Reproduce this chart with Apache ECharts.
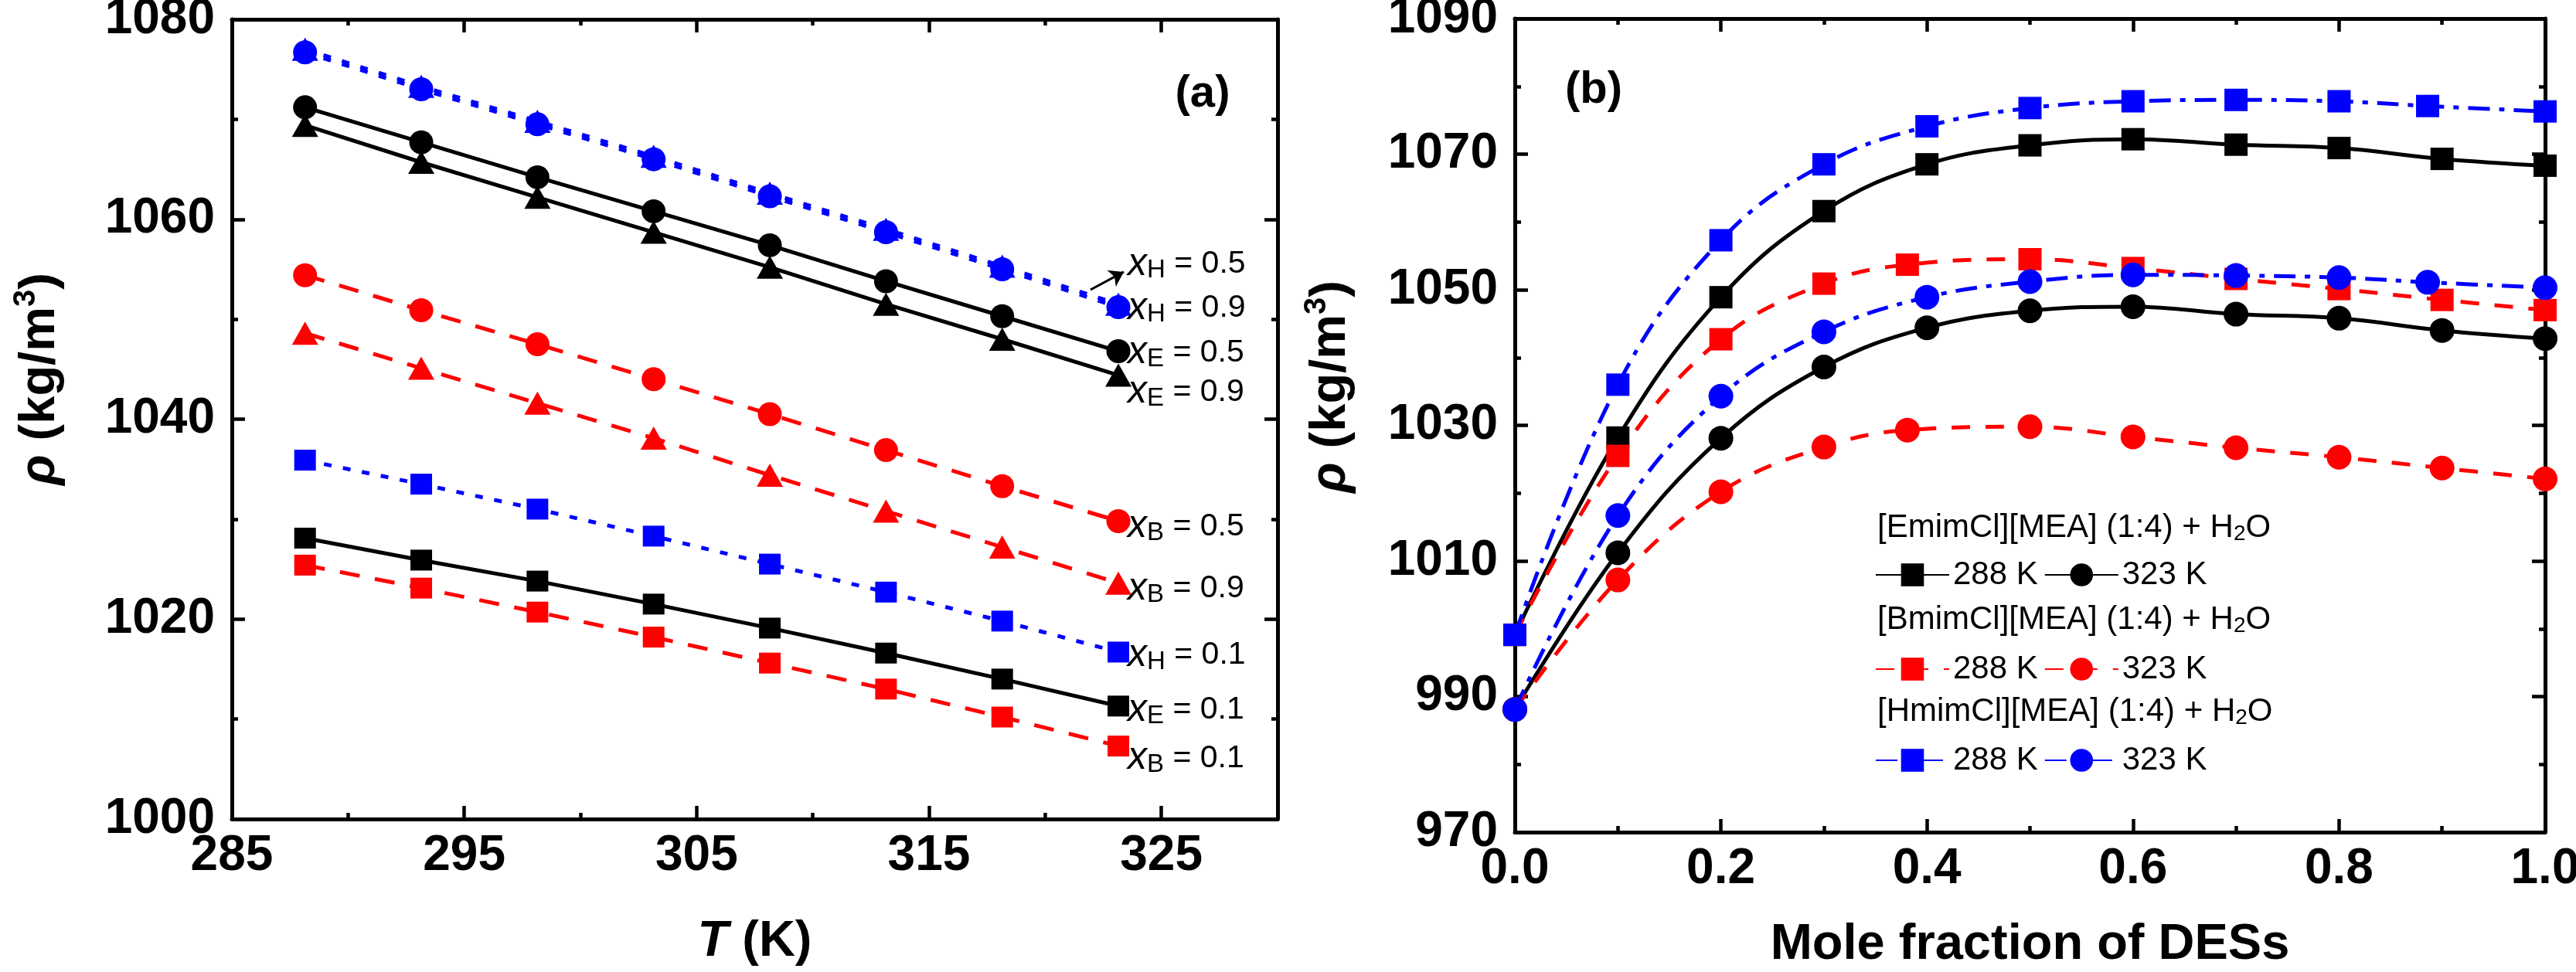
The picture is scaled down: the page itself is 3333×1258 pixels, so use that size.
<!DOCTYPE html>
<html>
<head>
<meta charset="utf-8">
<script src="https://cdn.jsdelivr.net/npm/echarts@6/dist/echarts.min.js"></script>
<style>
  html, body { margin: 0; padding: 0; background: #fff; }
  #main { width: 3333px; height: 1258px; }
</style>
</head>
<body>
<div id="main"></div>
<script>
// (a) density vs temperature
const tempK = [288.15, 293.15, 298.15, 303.15, 308.15, 313.15, 318.15, 323.15];
const rhoH05 = [1076.7, 1073.0, 1069.5, 1066.0, 1062.3, 1058.7, 1055.0, 1051.2];
const rhoH09 = [1077.0, 1073.3, 1069.8, 1066.3, 1062.6, 1059.0, 1055.3, 1051.5];
const rhoE05 = [1071.2, 1067.7, 1064.2, 1060.8, 1057.4, 1053.8, 1050.3, 1046.8];
const rhoE09 = [1069.4, 1065.7, 1062.2, 1058.7, 1055.2, 1051.5, 1048.0, 1044.4];
const rhoB05 = [1054.4, 1050.9, 1047.5, 1044.0, 1040.5, 1036.9, 1033.3, 1029.8];
const rhoB09 = [1048.6, 1045.1, 1041.6, 1038.1, 1034.4, 1030.8, 1027.2, 1023.6];
const rhoH01 = [1035.9, 1033.5, 1031.0, 1028.3, 1025.5, 1022.7, 1019.8, 1016.7];
const rhoE01 = [1028.1, 1025.9, 1023.8, 1021.5, 1019.1, 1016.6, 1014.0, 1011.3];
const rhoB01 = [1025.4, 1023.1, 1020.7, 1018.2, 1015.6, 1013.0, 1010.2, 1007.3];
// arrow from the xH = 0.5 label to its line (data coords)
const arrowFrom = [321.95, 1052.95];
const arrowTo = [323.38, 1054.73];

// (b) density vs mole fraction of DES
const xEmim = [0, 0.1, 0.2, 0.3, 0.4, 0.5, 0.6, 0.7, 0.8, 0.9, 1.0];
const xBmim = [0, 0.1, 0.2, 0.3, 0.381, 0.5, 0.6, 0.7, 0.8, 0.9, 1.0];
const xHmim = [0, 0.1, 0.2, 0.3, 0.4, 0.5, 0.6, 0.7, 0.8, 0.886, 1.0];
const emim288 = [999.1, 1028.2, 1048.9, 1061.6, 1068.5, 1071.3, 1072.2, 1071.4, 1070.9, 1069.3, 1068.3];
const emim323 = [988.1, 1011.2, 1028.1, 1038.6, 1044.4, 1046.9, 1047.5, 1046.4, 1045.8, 1044.0, 1042.8];
const bmim288 = [999.1, 1025.5, 1042.7, 1050.9, 1053.7, 1054.5, 1053.2, 1051.6, 1050.1, 1048.5, 1047.0];
const bmim323 = [988.1, 1007.2, 1020.2, 1026.8, 1029.3, 1029.8, 1028.3, 1026.7, 1025.3, 1023.7, 1022.1];
const hmim288 = [999.1, 1036.0, 1057.3, 1068.5, 1074.1, 1076.8, 1077.8, 1078.0, 1077.8, 1077.1, 1076.3];
const hmim323 = [988.1, 1016.7, 1034.3, 1043.8, 1048.9, 1051.2, 1052.2, 1052.1, 1051.8, 1051.1, 1050.3];

// tick labels / ticks
const aXLabels = [285, 295, 305, 315, 325];
const aXMajor = [295, 305, 315, 325];
const aXMinor = [290, 300, 310, 320];
const aYLabels = [1000, 1020, 1040, 1060, 1080];
const aYMajor = [1020, 1040, 1060];
const aYMinor = [1010, 1030, 1050, 1070];
const bXLabels = [0, 0.2, 0.4, 0.6, 0.8, 1.0];
const bXMajor = [0.2, 0.4, 0.6, 0.8];
const bXMinor = [0.1, 0.3, 0.5, 0.7, 0.9];
const bYLabels = [970, 990, 1010, 1030, 1050, 1070, 1090];
const bYMajor = [990, 1010, 1030, 1050, 1070];
const bYMinor = [980, 1000, 1020, 1040, 1060, 1080];

const FONT = "'Liberation Sans', Arial, Helvetica, sans-serif";
const RED = '#ff0000', BLUE = '#0000ff', BLACK = '#000000';
const DASH = [26, 20], DOT = [10, 15], DASHDOT = [28, 12, 7, 12];
const LW = 5;

// 4 axes per side pair: main + mirror with long ticks, main + mirror with short ticks
function axisSet(dim, grid, min, max, labelVals, majorVals, minorVals, fmt, extra) {
  const sides = dim === 'x' ? ['bottom', 'top'] : ['left', 'right'];
  const tick = (vals, len) => ({
    show: true, inside: true, length: len, customValues: vals,
    lineStyle: { color: BLACK, width: 4.5 }
  });
  const common = { type: 'value', gridIndex: grid, min: min, max: max, splitLine: { show: false }, nameMoveOverlap: false };
  const lineOn = { show: true, onZero: false, lineStyle: { color: BLACK, width: 5 } };
  const lineOff = { show: false, onZero: false };
  return [
    Object.assign({}, common, {
      position: sides[0], axisLine: lineOn, axisTick: tick(majorVals, 17),
      axisLabel: {
        show: true, customValues: labelVals, formatter: fmt,
        fontSize: 64, fontWeight: 'bold', fontFamily: FONT, color: BLACK,
        margin: dim === 'x' ? 16 : 22
      }
    }, extra),
    Object.assign({}, common, { position: sides[1], axisLine: lineOn, axisTick: tick(majorVals, 17), axisLabel: { show: false } }),
    Object.assign({}, common, { position: sides[0], axisLine: lineOff, axisTick: tick(minorVals, 8), axisLabel: { show: false } }),
    Object.assign({}, common, { position: sides[1], axisLine: lineOff, axisTick: tick(minorVals, 8), axisLabel: { show: false } })
  ];
}

const titleRich = {
  i: { fontSize: 65, fontWeight: 'bold', fontStyle: 'italic', fontFamily: FONT, color: BLACK, lineHeight: 76 },
  b: { fontSize: 65, fontWeight: 'bold', fontFamily: FONT, color: BLACK, lineHeight: 76 },
  p: { fontSize: 40, fontWeight: 'bold', fontFamily: FONT, color: BLACK, lineHeight: 10, verticalAlign: 'top' }
};
const rhoName = '{i|ρ}{b| (kg/m}{p|3}{b|)}';

const lblRich = {
  x: { fontSize: 50, fontStyle: 'italic', fontFamily: FONT, color: BLACK, lineHeight: 50 },
  s: { fontSize: 33, fontFamily: FONT, color: BLACK, lineHeight: 23, verticalAlign: 'bottom' },
  n: { fontSize: 41, fontFamily: FONT, color: BLACK, lineHeight: 50 }
};

function endLbl(sub, val, dy) {
  const pad = dy < 0 ? [0, 0, -2 * dy, 0] : [2 * dy, 0, 0, 0];
  return {
    show: true, distance: 12, padding: pad,
    formatter: '{x|x}{s|' + sub + '}{n| = ' + val + '}',
    rich: lblRich
  };
}

function line(name, xs, ys, color, dash, symbol, size, ax, extra) {
  return Object.assign({
    name: name, type: 'line', xAxisIndex: ax, yAxisIndex: ax,
    data: xs.map((x, i) => [x, ys[i]]),
    symbol: symbol, symbolSize: size, showAllSymbol: true,
    itemStyle: { color: color },
    lineStyle: { color: color, width: LW, type: dash },
    emphasis: { disabled: true }, silent: true
  }, extra);
}

const headRich = { s: { fontSize: 28, fontFamily: FONT, color: BLACK, lineHeight: 20, verticalAlign: 'bottom' } };
function header(text, y) {
  return {
    type: 'text', x: 2429, y: y, silent: true,
    style: { text: text, fontSize: 42, fontFamily: FONT, fill: BLACK, verticalAlign: 'middle', lineHeight: 44, rich: headRich }
  };
}

function legendRow(items, top) {
  return {
    left: 2426, top: top, orient: 'horizontal', padding: 0,
    itemWidth: 95, itemHeight: 37, itemGap: 8, selectedMode: false,
    data: items,
    formatter: n => n.split('|')[1],
    textStyle: { fontSize: 42, fontFamily: FONT, color: BLACK }
  };
}

const chart = echarts.init(document.getElementById('main'), null, { renderer: 'canvas' });

const option = {
  animation: false,
  backgroundColor: '#ffffff',
  grid: [
    { left: 300, top: 25, width: 1353, height: 1035, outerBoundsMode: 'none', containLabel: false },
    { left: 1960, top: 24, width: 1333, height: 1053, outerBoundsMode: 'none', containLabel: false }
  ],
  xAxis: [].concat(
    axisSet('x', 0, 285, 330, aXLabels, aXMajor, aXMinor, v => String(v), {
      name: '{i|T}{b| (K)}', nameLocation: 'middle', nameGap: 121, nameTextStyle: { rich: titleRich }
    }),
    axisSet('x', 1, 0, 1, bXLabels, bXMajor, bXMinor, v => Number(v).toFixed(1), {
      name: 'Mole fraction of DESs', nameLocation: 'middle', nameGap: 108,
      nameTextStyle: { fontSize: 65, fontWeight: 'bold', fontFamily: FONT, color: BLACK, lineHeight: 76 }
    })
  ),
  yAxis: [].concat(
    axisSet('y', 0, 1000, 1080, aYLabels, aYMajor, aYMinor, v => String(v), {
      name: rhoName, nameLocation: 'middle', nameRotate: 90, nameGap: 210,
      nameTextStyle: { rich: titleRich, padding: [0, 0, 0, 104] }
    }),
    axisSet('y', 1, 970, 1090, bYLabels, bYMajor, bYMinor, v => String(v), {
      name: rhoName, nameLocation: 'middle', nameRotate: 90, nameGap: 200,
      nameTextStyle: { rich: titleRich, padding: [0, 0, 0, 100] }
    })
  ),
  legend: [
    legendRow(['Emim288|288 K', 'Emim323|323 K'], 723),
    legendRow(['Bmim288|288 K', 'Bmim323|323 K'], 845),
    legendRow(['Hmim288|288 K', 'Hmim323|323 K'], 963)
  ],
  graphic: [
    { type: 'text', x: 1556, y: 122, silent: true,
      style: { text: '(a)', fontSize: 58, fontWeight: 'bold', fontFamily: FONT, fill: BLACK, align: 'center', verticalAlign: 'middle' } },
    { type: 'text', x: 2062, y: 117, silent: true,
      style: { text: '(b)', fontSize: 58, fontWeight: 'bold', fontFamily: FONT, fill: BLACK, align: 'center', verticalAlign: 'middle' } },
    header('[EmimCl][MEA] (1:4) + H{s|2}O', 683),
    header('[BmimCl][MEA] (1:4) + H{s|2}O', 802),
    header('[HmimCl][MEA] (1:4) + H{s|2}O', 921)
  ],
  series: [
    // panel (a)
    line('xE0.5', tempK, rhoE05, BLACK, 'solid', 'circle', 31, 0, { endLabel: endLbl('E', '0.5', 2) }),
    line('xE0.9', tempK, rhoE09, BLACK, 'solid', 'triangle', [34, 30], 0, { endLabel: endLbl('E', '0.9', 22) }),
    line('xE0.1', tempK, rhoE01, BLACK, 'solid', 'rect', [28, 27], 0, { endLabel: endLbl('E', '0.1', 5) }),
    line('xB0.5', tempK, rhoB05, RED, DASH, 'circle', 31, 0, { endLabel: endLbl('B', '0.5', 7) }),
    line('xB0.9', tempK, rhoB09, RED, DASH, 'triangle', [34, 30], 0, { endLabel: endLbl('B', '0.9', 7) }),
    line('xB0.1', tempK, rhoB01, RED, DASH, 'rect', [28, 27], 0, { endLabel: endLbl('B', '0.1', 16) }),
    line('xH0.1', tempK, rhoH01, BLUE, DOT, 'rect', [28, 27], 0, { endLabel: endLbl('H', '0.1', 4) }),
    line('xH0.9', tempK, rhoH09, BLUE, DOT, 'triangle', [34, 30], 0, { endLabel: endLbl('H', '0.9', 5) }),
    line('xH0.5', tempK, rhoH05, BLUE, DOT, 'circle', 31, 0, {
      endLabel: endLbl('H', '0.5', -56),
      markLine: {
        silent: true, symbolSize: 18, animation: false,
        label: { show: false },
        lineStyle: { color: BLACK, width: 3, type: 'solid' },
        data: [[{ coord: arrowFrom, symbol: 'none' }, { coord: arrowTo, symbol: 'arrow' }]]
      }
    }),
    // panel (b)
    line('Emim288|288 K', xEmim, emim288, BLACK, 'solid', 'rect', [30, 29], 4, { smooth: 0.4 }),
    line('Emim323|323 K', xEmim, emim323, BLACK, 'solid', 'circle', 32, 4, { smooth: 0.4 }),
    line('Bmim288|288 K', xBmim, bmim288, RED, [24, 20], 'rect', [30, 29], 4, { smooth: 0.4 }),
    line('Bmim323|323 K', xBmim, bmim323, RED, [24, 20], 'circle', 32, 4, { smooth: 0.4 }),
    line('Hmim288|288 K', xHmim, hmim288, BLUE, DASHDOT, 'rect', [30, 29], 4, { smooth: 0.4 }),
    line('Hmim323|323 K', xHmim, hmim323, BLUE, DASHDOT, 'circle', 32, 4, { smooth: 0.4 })
  ]
};

chart.setOption(option);
</script>
</body>
</html>
